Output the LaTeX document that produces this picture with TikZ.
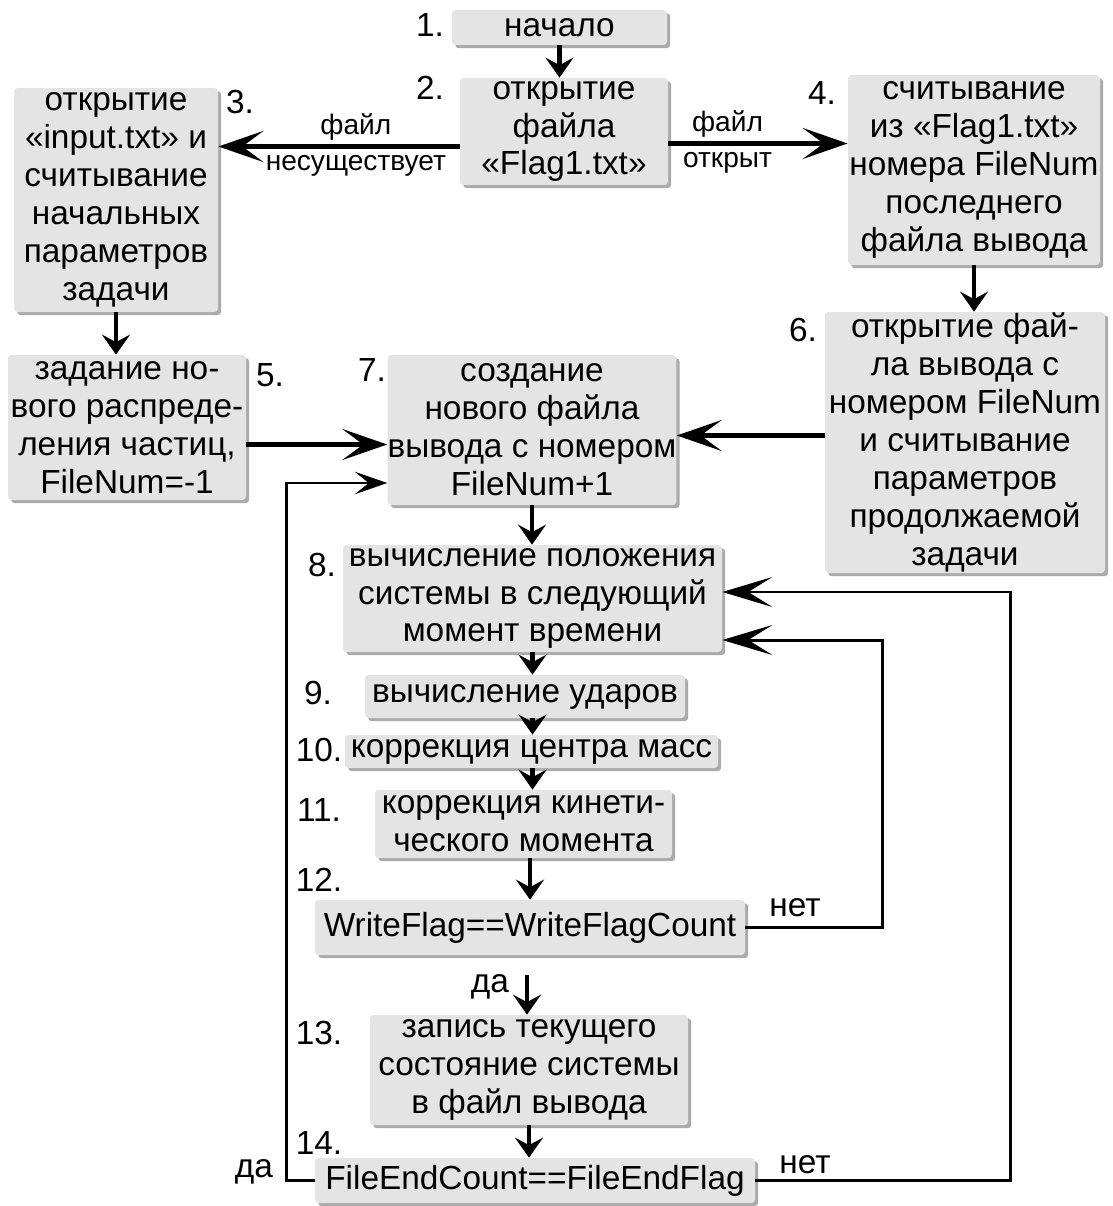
\documentclass[tikz,border=0pt]{standalone}
\usepackage{fontspec}
\setmainfont{Liberation Sans}
\usetikzlibrary{arrows.meta,shadows}
\definecolor{boxgray}{RGB}{228,228,228}
\newcommand\px{0.02cm}
\newcommand\boxfont{\fontsize{19}{21.6}\selectfont}
\newcommand\lblfont{\fontsize{16}{17}\selectfont}
\tikzset{
  blk/.style 2 args={fill=boxgray, rounded corners=2pt, inner sep=0pt, align=center,
    font=\boxfont, minimum width=#1*\px, minimum height=#2*\px,
    drop shadow={shadow xshift=1.8pt, shadow yshift=-1.8pt, fill=black!65}},
  num/.style={font=\boxfont},
  lbl/.style={font=\lblfont, inner sep=1pt},
  big/.style={line width=2.8pt, -{Stealth[length=0.9cm, width=0.62cm, inset=0.42cm]}},
  back/.style={line width=1.7pt, -{Stealth[length=1cm, width=0.6cm, inset=0.48cm]}},
  down/.style={line width=2.4pt, -{Stealth[length=0.4cm, width=0.56cm, inset=0.15cm]}}
}
\begin{document}
\begin{tikzpicture}[x=0.02cm, y=-0.02cm]
\useasboundingbox[fill=white] (0,0) rectangle (1112,1206);
% blocks
\node[blk={215}{35}] (b1) at (559.5,27.5) {начало};
\node[blk={208}{107}] (b2) at (564,131.5) {открытие\\файла\\«Flag1.txt»};
\node[blk={204}{224}] (b3) at (116,200) {открытие\\«input.txt» и\\считывание\\начальных\\параметров\\задачи};
\node[blk={252}{190}] (b4) at (974,170) {считывание\\из «Flag1.txt»\\номера FileNum\\последнего\\файла вывода};
\node[blk={238}{145}] (b5) at (127,427.5) {задание но-\\вого распреде-\\ления частиц,\\FileNum=-1};
\node[blk={280}{261}] (b6) at (965,442.5) {открытие фай-\\ла вывода с\\номером FileNum\\и считывание\\параметров\\продолжаемой\\задачи};
\node[blk={288}{150}] (b7) at (532,430) {создание\\нового файла\\вывода с номером\\FileNum+1};
\node[blk={379}{107}] (b8) at (532.5,598.5) {вычисление положения\\системы в следующий\\момент времени};
\node[blk={320}{43}] (b9) at (525,696.5) {вычисление ударов};
\node[blk={373}{33}] (b10) at (531.5,751.5) {коррекция центра масс};
\node[blk={297}{68}] (b11) at (523.5,824) {коррекция кинети-\\ческого момента};
\node[blk={430}{55}] (b12) at (530,927.5) {WriteFlag==WriteFlagCount};
\node[blk={318}{110}] (b13) at (529,1070) {запись текущего\\состояние системы\\в файл вывода};
\node[blk={440}{45}] (b14) at (535,1180.5) {FileEndCount==FileEndFlag};
% numbers
\node[num] (n1) at (430,25) {1.};
\node[num] (n2) at (430,88) {2.};
\node[num] (n3) at (240,102) {3.};
\node[num] (n4) at (822,93) {4.};
\node[num] (n5) at (270,375) {5.};
\node[num] (n6) at (803,330) {6.};
\node[num] (n7) at (372,370) {7.};
\node[num] (n8) at (322,565) {8.};
\node[num] (n9) at (318,693) {9.};
\node[num] (n10) at (319,750) {10.};
\node[num] (n11) at (319,810) {11.};
\node[num] (n12) at (319,880) {12.};
\node[num] (n13) at (319,1033) {13.};
\node[num] (n14) at (319,1143) {14.};
% branch labels
\node[num] (no12) at (795,908) {нет};
\node[num] (yes12) at (490,987) {да};
\node[num] (no14) at (805,1165) {нет};
\node[num] (yes14) at (254,1172) {да};
% arrows
\draw[down] (b1.south) -- (b1.south |- b2.north);
\draw[big] ([shift={(0,15)}]b2.west) -- ([shift={(0,15)}]b2.west -| b3.east)
  node[lbl, pos=0.43, above=1pt] {файл} node[lbl, pos=0.43, below=2.5pt] {несуществует};
\draw[big] ([shift={(0,12)}]b2.east) -- ([shift={(0,12)}]b2.east -| b4.west)
  node[lbl, pos=0.33, above=1pt] {файл} node[lbl, pos=0.33, below=2.5pt] {открыт};
\draw[down] (b3.south) -- (b3.south |- b5.north);
\draw[down] (b4.south) -- (b4.south |- b6.north);
\draw[big] ([shift={(0,17)}]b5.east) -- ([shift={(0,17)}]b5.east -| b7.west);
\draw[big] ([shift={(0,-7)}]b6.west) -- ([shift={(0,-7)}]b6.west -| b7.east);
\draw[down] (b7.south) -- (b7.south |- b8.north);
\draw[down] (b8.south) -- (b8.south |- b9.north);
\draw[down] (b8.south |- b9.south) -- (b8.south |- b10.north);
\draw[down] (b8.south |- b10.south) -- (b8.south |- b11.north);
\draw[down] (b12.north |- b11.south) -- (b12.north);
\draw[down] ([shift={(-3,20)}]b12.south) -- ([shift={(-3,0)}]b12.south |- b13.north);
\draw[down] (b13.south) -- (b13.south |- b14.north);
% loops
\draw[back] (b12.east) -- ++(137,0) |- ([shift={(0,41.5)}]b8.east);
\draw[back] (b14.east) -- ++(255,0) |- ([shift={(0,-6.5)}]b8.east);
\draw[back, -{Stealth[length=0.65cm, width=0.45cm, inset=0.28cm]}] (b14.west) -- ++(-28,0) |- ([shift={(0,53)}]b7.west);
\end{tikzpicture}
\end{document}
